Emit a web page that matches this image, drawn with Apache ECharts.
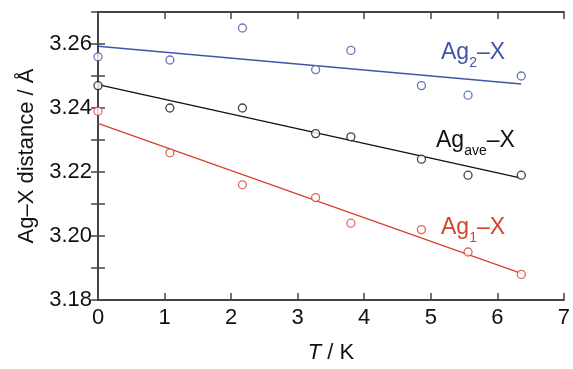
<!DOCTYPE html>
<html>
<head>
<meta charset="utf-8">
<title>Ag-X distance</title>
<script src="https://cdn.jsdelivr.net/npm/echarts@6/dist/echarts.min.js"></script>
<style>
  html, body { margin: 0; padding: 0; background: #fff; }
  #main { width: 573px; height: 369px; }
</style>
</head>
<body>
<div id="main"></div>
<script>
// temperatures (K)
var temps = [0, 1.08, 2.17, 3.27, 3.8, 4.86, 5.56, 6.36];
// measured distances (Å)
var ag2 = [3.256, 3.255, 3.265, 3.252, 3.258, 3.247, 3.244, 3.250];
var agAve = [3.247, 3.240, 3.240, 3.232, 3.231, 3.224, 3.219, 3.219];
var ag1 = [3.239, 3.226, 3.216, 3.212, 3.204, 3.202, 3.195, 3.188];
// fitted line end points
var fitX = [0, 6.36];
var fit2 = [3.2593, 3.2475];
var fitAve = [3.2473, 3.2181];
var fit1 = [3.2352, 3.1883];

var blue = '#4155a6';
var red = '#d8412c';
var black = '#111';
var font = 'Liberation Sans, Arial, Helvetica, sans-serif';

function pairs(xs, ys) {
  return xs.map(function (x, i) { return [x, ys[i]]; });
}

function pointSeries(ys, color) {
  return {
    type: 'scatter',
    data: pairs(temps, ys),
    symbol: 'circle',
    symbolSize: 8,
    itemStyle: { color: '#fff', borderColor: color, borderWidth: 1.3 },
    z: 3
  };
}

function fitSeries(ys, color) {
  return {
    type: 'line',
    data: pairs(fitX, ys),
    showSymbol: false,
    lineStyle: { color: color, width: 1.3 },
    z: 2
  };
}

var axisLine = { show: true, lineStyle: { color: '#444', width: 2 } };
var tick = { show: true, inside: true, length: 7, lineStyle: { color: '#444', width: 1.5 } };

var chart = echarts.init(document.getElementById('main'));
chart.setOption({
  animation: false,
  grid: { left: 98, right: 7, top: 12, bottom: 61 },
  xAxis: [{
    type: 'value', min: 0, max: 7, interval: 1,
    name: '{i|T} / K', nameLocation: 'middle', nameGap: 42,
    nameTextStyle: {
      color: '#111', fontFamily: font, fontSize: 22,
      rich: { i: { fontStyle: 'italic', fontFamily: font, fontSize: 22, color: '#111' } }
    },
    axisLine: axisLine, axisTick: tick, splitLine: { show: false },
    axisLabel: { color: '#111', fontFamily: font, fontSize: 22, margin: 7 }
  }, {
    type: 'value', min: 0, max: 7, interval: 1, position: 'top',
    axisLine: axisLine, axisTick: tick, splitLine: { show: false },
    axisLabel: { show: false }
  }],
  yAxis: [{
    type: 'value', min: 3.18, max: 3.27, interval: 0.01,
    name: 'Ag–X distance / Å', nameLocation: 'middle', nameGap: 60,
    nameTextStyle: { color: '#111', fontFamily: font, fontSize: 22 },
    axisLine: axisLine, axisTick: tick, splitLine: { show: false },
    axisLabel: {
      color: '#111', fontFamily: font, fontSize: 22, margin: 6,
      formatter: function (v) {
        return Math.round(v * 100) % 2 === 0 ? v.toFixed(2) : '';
      }
    }
  }, {
    type: 'value', min: 3.18, max: 3.27, interval: 0.01, position: 'right',
    axisLine: axisLine, axisTick: tick, splitLine: { show: false },
    axisLabel: { show: false }
  }],
  series: [
    fitSeries(fit2, blue), pointSeries(ag2, blue),
    fitSeries(fitAve, black), pointSeries(agAve, black),
    fitSeries(fit1, red), pointSeries(ag1, red)
  ],
  graphic: [
    {
      type: 'text', left: 441, top: 41,
      style: {
        text: '{a|Ag}{s|2}{a|–X}', fill: blue,
        rich: {
          a: { fontFamily: font, fontSize: 23, fill: blue, verticalAlign: 'bottom' },
          s: { fontFamily: font, fontSize: 14, fill: blue, verticalAlign: 'bottom', padding: [0, 0, -6, 0] }
        }
      }
    },
    {
      type: 'text', left: 436, top: 129,
      style: {
        text: '{a|Ag}{s|ave}{a|–X}', fill: black,
        rich: {
          a: { fontFamily: font, fontSize: 23, fill: black, verticalAlign: 'bottom' },
          s: { fontFamily: font, fontSize: 14, fill: black, verticalAlign: 'bottom', padding: [0, 0, -6, 0] }
        }
      }
    },
    {
      type: 'text', left: 441, top: 216,
      style: {
        text: '{a|Ag}{s|1}{a|–X}', fill: red,
        rich: {
          a: { fontFamily: font, fontSize: 23, fill: red, verticalAlign: 'bottom' },
          s: { fontFamily: font, fontSize: 14, fill: red, verticalAlign: 'bottom', padding: [0, 0, -6, 0] }
        }
      }
    }
  ]
});
</script>
</body>
</html>
